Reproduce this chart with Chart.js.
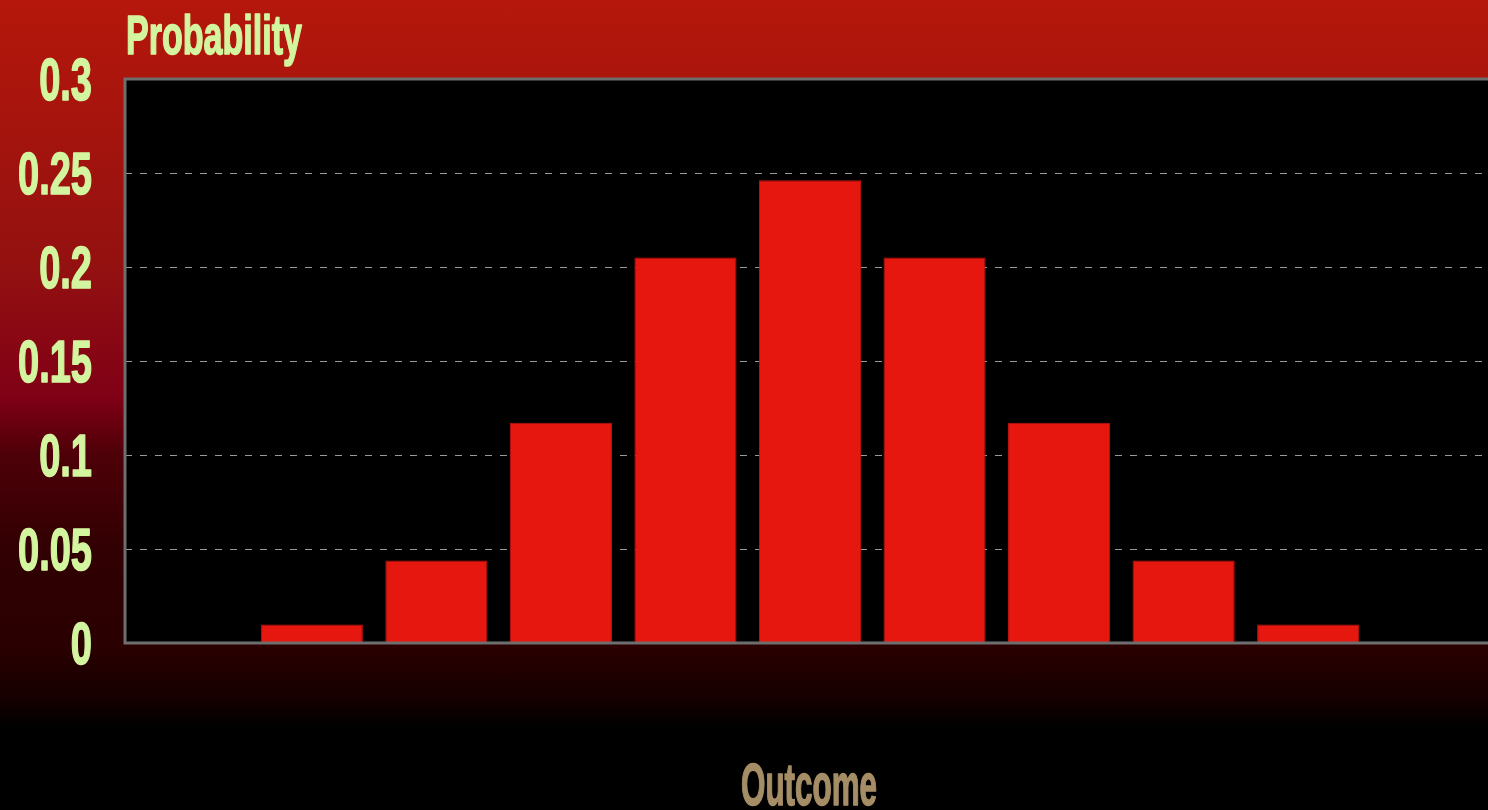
<!DOCTYPE html>
<html lang="en">
<head>
    <meta charset="UTF-8">
    <title>Probability by Outcome</title>
    <script src="https://cdn.jsdelivr.net/npm/chart.js"></script>
    <style>
        html, body { margin: 0; padding: 0; background: #000; overflow: hidden; }
        #wrap {
            width: 1488px; height: 810px; overflow: hidden; position: relative;
            background: linear-gradient(to bottom, #b5170b 0%, #931110 33%, #800016 49%, #4e0008 56%, #310002 68%, #2a0000 80%, #160000 86%, #000 90%, #000 100%);
        }
        canvas { display: block; }
    </style>
</head>
<body>
    <div id="wrap"><canvas id="chart" width="1495" height="810"></canvas></div>
    <script>
        const outcomes = ["0", "1", "2", "3", "4", "5", "6", "7", "8", "9", "10"];
        const probabilities = [0, 0.0098, 0.0439, 0.1172, 0.2051, 0.2461, 0.2051, 0.1172, 0.0439, 0.0098, 0];
        const yTicks = [0, 0.05, 0.1, 0.15, 0.2, 0.25, 0.3];

        const FONT = '"Liberation Sans Narrow", "Liberation Sans", sans-serif';

        // draws bold text squeezed horizontally, like a condensed display face
        function narrowText(ctx, text, x, y, size, squeeze, color, align) {
            ctx.save();
            ctx.font = `bold ${size}px ${FONT}`;
            ctx.fillStyle = color;
            ctx.strokeStyle = color;
            ctx.lineWidth = 1.6;
            ctx.lineJoin = "round";
            ctx.textBaseline = "alphabetic";
            ctx.textAlign = align;
            ctx.translate(x, y);
            ctx.scale(squeeze, 1);
            ctx.fillText(text, 0, 0);
            ctx.strokeText(text, 0, 0);
            ctx.restore();
        }

        function squeezeFor(ctx, text, size, width) {
            ctx.save();
            ctx.font = `bold ${size}px ${FONT}`;
            const w = ctx.measureText(text).width;
            ctx.restore();
            return width / w;
        }

        const framePlugin = {
            id: "frame",
            beforeDraw(chart) {
                const { ctx, chartArea: a } = chart;
                ctx.save();
                ctx.fillStyle = "#000";
                ctx.fillRect(a.left, a.top, a.right - a.left, a.bottom - a.top);
                ctx.restore();
            },
            afterDatasetsDraw(chart) {
                const { ctx, chartArea: a } = chart;
                ctx.save();
                ctx.strokeStyle = "#6e6e6e";
                ctx.lineWidth = 3;
                ctx.strokeRect(a.left, a.top, a.right - a.left, a.bottom - a.top);
                ctx.restore();
            },
            afterDraw(chart) {
                const { ctx } = chart;
                const y = chart.scales.y;
                const k = squeezeFor(ctx, "0.25", 60, 74);
                yTicks.forEach(v => {
                    const label = String(Number(v.toFixed(2)));
                    narrowText(ctx, label, 92, y.getPixelForValue(v) + 21, 60, k, "#d4f5a0", "right");
                });
                narrowText(ctx, "Probability", 126, 54, 56, squeezeFor(ctx, "Probability", 56, 176), "#d4f5a0", "left");
                narrowText(ctx, "Outcome", 809, 805, 60, squeezeFor(ctx, "Outcome", 60, 136), "#a58d66", "center");
            }
        };

        new Chart(document.getElementById("chart"), {
            type: "bar",
            data: {
                labels: outcomes,
                datasets: [{
                    label: "Probability",
                    data: probabilities,
                    backgroundColor: "#e5170f",
                    borderColor: "#bf1410",
                    borderWidth: 1,
                    barPercentage: 0.82,
                    categoryPercentage: 1
                }]
            },
            options: {
                responsive: false,
                animation: false,
                layout: { padding: { top: 79, bottom: 167, left: 0, right: 0 } },
                scales: {
                    x: { display: false },
                    y: {
                        min: 0,
                        max: 0.3,
                        afterFit: scale => { scale.width = 125; },
                        ticks: { stepSize: 0.05, display: false },
                        border: { display: false, dash: [7, 8] },
                        grid: { color: "#9a9a9a", lineWidth: 1, drawTicks: false }
                    }
                },
                plugins: {
                    legend: { display: false },
                    tooltip: { enabled: false }
                }
            },
            plugins: [framePlugin]
        });
    </script>
</body>
</html>
